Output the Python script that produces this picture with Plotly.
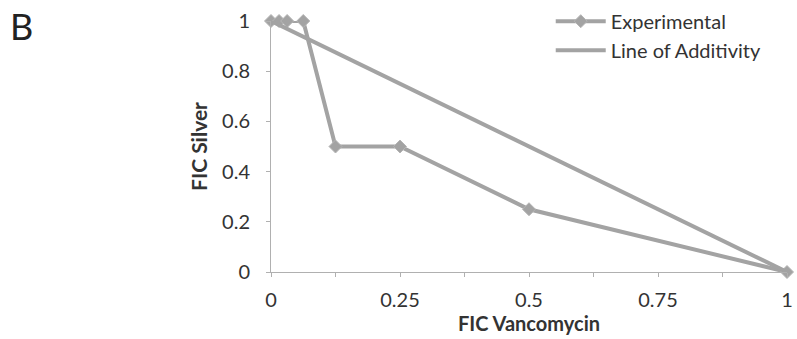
import plotly.graph_objects as go

exp_x = [0, 0.015625, 0.03125, 0.0625, 0.125, 0.25, 0.5, 1]
exp_y = [1, 1, 1, 1, 0.5, 0.5, 0.25, 0]
add_x = [0, 1]
add_y = [1, 0]
x_ticks = [0, 0.25, 0.5, 0.75, 1]
x_labels = ["0", "0.25", "0.5", "0.75", "1"]
y_ticks = [0, 0.2, 0.4, 0.6, 0.8, 1]
y_labels = ["0", "0.2", "0.4", "0.6", "0.8", "1"]

gray = "#a3a3a3"
font = "Lato, 'Open Sans', sans-serif"

fig = go.Figure()
fig.add_trace(go.Scatter(x=exp_x, y=exp_y, mode="lines+markers", name="Experimental",
                         legendgroup="a",
                         line=dict(color=gray, width=4),
                         marker=dict(symbol="diamond", size=10, color=gray,
                                     line=dict(color="#b5b5b5", width=1)),
                         cliponaxis=False))
fig.add_trace(go.Scatter(x=add_x, y=add_y, mode="lines", name="Line of Additivity",
                         legendgroup="b",
                         line=dict(color=gray, width=4), cliponaxis=False))

fig.update_layout(
    width=797, height=339,
    margin=dict(l=271, r=10, t=21, b=67, autoexpand=False),
    paper_bgcolor="white", plot_bgcolor="white",
    font=dict(family=font, size=20, color="#333333"),
    showlegend=True,
    legend=dict(xref="container", yref="container", x=0.691, y=0.995,
                xanchor="left", yanchor="top",
                bgcolor="rgba(0,0,0,0)", font=dict(size=20, color="#333333"),
                tracegroupgap=0, itemwidth=50),
    xaxis=dict(range=[0, 1], tickvals=x_ticks, ticktext=x_labels,
               showgrid=False, zeroline=False, showline=True, linecolor="#b0b0b0", linewidth=1,
               ticks="outside", ticklen=4, tickcolor="#b0b0b0", ticklabelstandoff=6,
               minor=dict(tickvals=[0.125, 0.375, 0.625, 0.875], ticks="outside", ticklen=4, tickcolor="#b0b0b0"),
               title=dict(text="<b>FIC Vancomycin</b>", font=dict(size=20), standoff=2),
               tickfont=dict(size=20)),
    yaxis=dict(range=[0, 1], tickvals=y_ticks, ticktext=y_labels,
               showgrid=False, zeroline=False, showline=True, linecolor="#b0b0b0", linewidth=1,
               ticks="outside", ticklen=4, tickcolor="#b0b0b0", ticklabelstandoff=12,
               title=dict(text="<b>FIC Silver</b>", font=dict(size=21), standoff=8),
               tickfont=dict(size=20)),
    annotations=[dict(text="B", xref="paper", yref="paper", x=-0.51, y=1.076,
                      xanchor="left", yanchor="top", showarrow=False,
                      font=dict(size=36, color="#222222", family=font))],
)

fig.write_html("out.html")
